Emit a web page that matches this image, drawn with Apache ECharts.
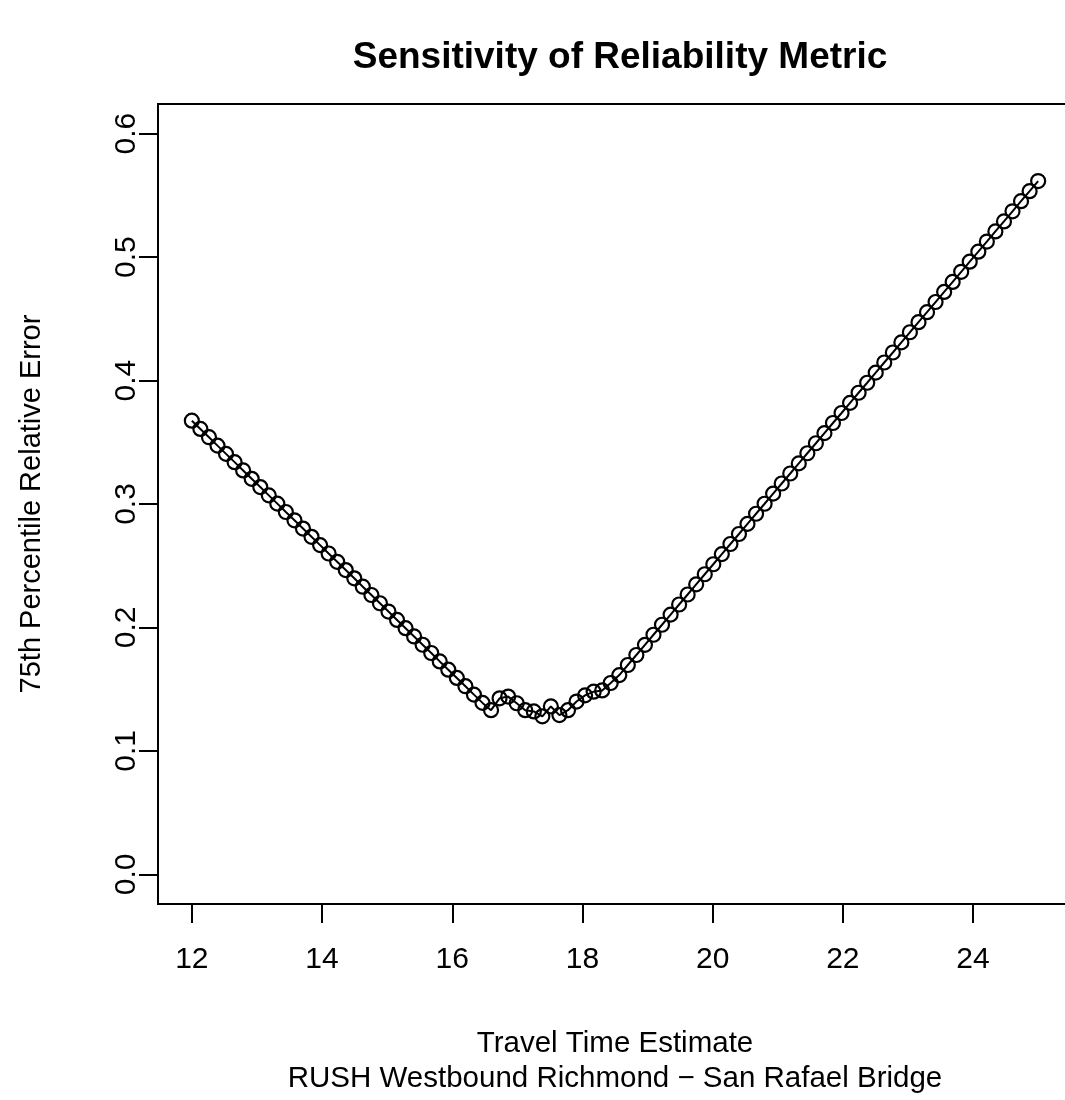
<!DOCTYPE html>
<html>
<head>
<meta charset="utf-8">
<script src="https://cdn.jsdelivr.net/npm/echarts@6/dist/echarts.min.js"></script>
<style>
html,body{margin:0;padding:0;background:#fff;}
#chart{width:1065px;height:1100px;}
</style>
</head>
<body>
<div id="chart"></div>
<script>
// Travel time estimate (x) values
var travelTime = [
12.000,12.131,12.263,12.394,12.525,12.657,12.788,12.919,13.051,13.182,
13.313,13.444,13.576,13.707,13.838,13.970,14.101,14.232,14.364,14.495,
14.626,14.758,14.889,15.020,15.152,15.283,15.414,15.545,15.677,15.808,
15.939,16.071,16.202,16.333,16.465,16.596,16.727,16.859,16.990,17.121,
17.253,17.384,17.515,17.646,17.778,17.909,18.040,18.172,18.303,18.434,
18.566,18.697,18.828,18.960,19.091,19.222,19.354,19.485,19.616,19.747,
19.879,20.010,20.141,20.273,20.404,20.535,20.667,20.798,20.929,21.061,
21.192,21.323,21.455,21.586,21.717,21.848,21.980,22.111,22.242,22.374,
22.505,22.636,22.768,22.899,23.030,23.162,23.293,23.424,23.556,23.687,
23.818,23.949,24.081,24.212,24.343,24.475,24.606,24.737,24.869,25.000
];
// 75th percentile relative error values
var relError = [
0.3675,0.3608,0.3541,0.3473,0.3406,0.3339,0.3272,0.3204,0.3137,0.3070,
0.3003,0.2935,0.2868,0.2801,0.2734,0.2667,0.2599,0.2532,0.2465,0.2398,
0.2330,0.2263,0.2196,0.2129,0.2061,0.1994,0.1927,0.1860,0.1793,0.1725,
0.1658,0.1591,0.1524,0.1456,0.1389,0.1330,0.1426,0.1440,0.1386,0.1330,
0.1320,0.1280,0.1360,0.1290,0.1330,0.1400,0.1450,0.1480,0.1490,0.1550,
0.1614,0.1696,0.1777,0.1859,0.1941,0.2022,0.2104,0.2186,0.2267,0.2349,
0.2431,0.2512,0.2594,0.2676,0.2757,0.2839,0.2921,0.3002,0.3084,0.3166,
0.3247,0.3329,0.3411,0.3492,0.3574,0.3656,0.3737,0.3819,0.3901,0.3982,
0.4064,0.4146,0.4227,0.4309,0.4391,0.4473,0.4554,0.4636,0.4718,0.4799,
0.4881,0.4963,0.5044,0.5126,0.5208,0.5289,0.5371,0.5453,0.5534,0.5616
];
var xTicks = [12,14,16,18,20,22,24];
var yTicks = [0,0.1,0.2,0.3,0.4,0.5,0.6];

var chartTitle = 'Sensitivity of Reliability Metric';
var xName = 'Travel Time Estimate\nRUSH Westbound Richmond \u2212 San Rafael Bridge';
var yName = '75th Percentile Relative Error';

var pts = travelTime.map(function(x,i){return [x, relError[i]];});
var FONT = '"Liberation Sans", Arial, sans-serif';

var chart = echarts.init(document.getElementById('chart'), null, {renderer:'canvas'});
chart.setOption({
  animation:false,
  backgroundColor:'#fff',
  title:{
    text: chartTitle,
    left: 615, top: 34, textAlign:'center',
    textStyle:{fontFamily:FONT, fontWeight:'bold', fontSize:37, color:'#000'}
  },
  grid:{left:158, top:104, width:914, height:800, show:true, borderColor:'#000', borderWidth:2,
        backgroundColor:'transparent', outerBoundsMode:'none', containLabel:false},
  xAxis:{
    type:'value', min:11.48, max:25.52,
    axisLine:{show:false, onZero:false},
    splitLine:{show:false},
    axisTick:{show:true, length:19, customValues:xTicks, lineStyle:{color:'#000', width:2}},
    axisLabel:{customValues:xTicks, margin:41, fontFamily:FONT, fontSize:30, color:'#000'},
    name:xName, nameLocation:'middle', nameGap:122,
    nameTextStyle:{fontFamily:FONT, fontSize:29.5, color:'#000', lineHeight:35}
  },
  yAxis:{
    type:'value', min:-0.024, max:0.624,
    axisLine:{show:false, onZero:false},
    splitLine:{show:false},
    axisTick:{show:true, length:19, customValues:yTicks, lineStyle:{color:'#000', width:2}},
    axisLabel:{customValues:yTicks, margin:16, rotate:90, fontFamily:FONT, fontSize:30, color:'#000',
      formatter:function(v){return v.toFixed(1);}},
    name:yName, nameLocation:'middle', nameGap:112,
    nameTextStyle:{fontFamily:FONT, fontSize:29, color:'#000'}
  },
  series:[{
    type:'line',
    data:pts,
    symbol:'circle',
    symbolSize:14,
    showAllSymbol:true,
    itemStyle:{color:'rgba(0,0,0,0)', borderColor:'#000', borderWidth:2.2},
    lineStyle:{color:'#000', width:2},
    emphasis:{disabled:true}
  }]
});
</script>
</body>
</html>
